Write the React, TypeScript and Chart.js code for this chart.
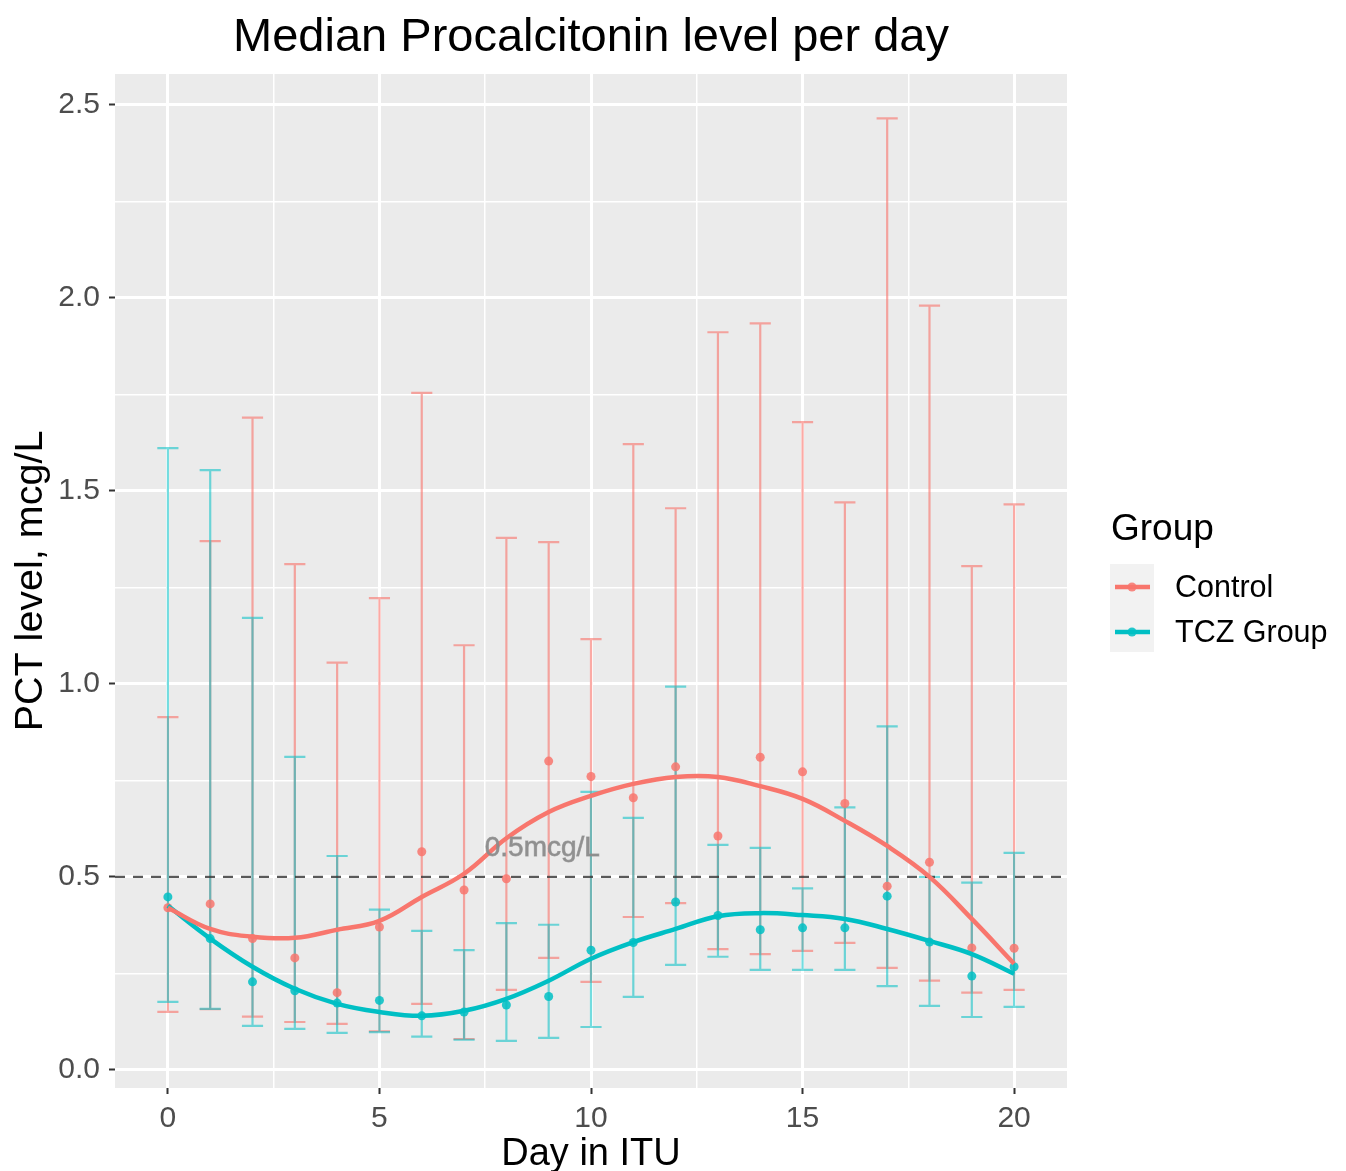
import React, { useEffect, useRef } from 'react';
import { Chart, registerables } from 'chart.js';

Chart.register(...registerables);

// ---------- data ----------
const DAYS = [0, 1, 2, 3, 4, 5, 6, 7, 8, 9, 10, 11, 12, 13, 14, 15, 16, 17, 18, 19, 20];

const CONTROL_MEDIAN = [0.42, 0.43, 0.34, 0.29, 0.2, 0.37, 0.565, 0.466, 0.495, 0.8, 0.76, 0.705, 0.785, 0.606, 0.81, 0.772, 0.69, 0.476, 0.538, 0.316, 0.315];
const CONTROL_UPPER = [0.914, 1.37, 1.69, 1.31, 1.055, 1.222, 1.754, 1.1, 1.378, 1.367, 1.116, 1.621, 1.455, 1.911, 1.934, 1.678, 1.47, 2.465, 1.98, 1.305, 1.465];
const CONTROL_LOWER = [0.15, 0.157, 0.138, 0.124, 0.119, 0.1, 0.171, 0.08, 0.207, 0.29, 0.228, 0.396, 0.432, 0.313, 0.3, 0.308, 0.329, 0.264, 0.231, 0.2, 0.207];

const TCZ_MEDIAN = [0.448, 0.34, 0.228, 0.205, 0.173, 0.18, 0.14, 0.15, 0.168, 0.19, 0.31, 0.33, 0.435, 0.4, 0.363, 0.368, 0.368, 0.45, 0.331, 0.243, 0.267];
const TCZ_UPPER = [1.611, 1.554, 1.171, 0.811, 0.554, 0.415, 0.36, 0.31, 0.38, 0.376, 0.72, 0.653, 0.993, 0.583, 0.575, 0.47, 0.68, 0.89, 0.5, 0.485, 0.562];
const TCZ_LOWER = [0.176, 0.158, 0.114, 0.106, 0.096, 0.098, 0.086, 0.078, 0.075, 0.083, 0.111, 0.189, 0.272, 0.293, 0.259, 0.259, 0.259, 0.217, 0.166, 0.137, 0.163];

// smoothed (loess) trend, read at each day
const CONTROL_SMOOTH = [0.42, 0.365, 0.345, 0.342, 0.363, 0.386, 0.448, 0.508, 0.6, 0.668, 0.71, 0.741, 0.759, 0.759, 0.735, 0.702, 0.645, 0.58, 0.5, 0.391, 0.275];
const TCZ_SMOOTH = [0.425, 0.34, 0.267, 0.21, 0.171, 0.15, 0.14, 0.153, 0.184, 0.231, 0.288, 0.331, 0.365, 0.398, 0.406, 0.401, 0.391, 0.365, 0.334, 0.3, 0.249];

const THRESHOLD = 0.5;
const THRESHOLD_LABEL = '0.5mcg/L';
const THRESHOLD_LABEL_POS = { x: 8.85, y: 0.573 };

const X_TICKS = [0, 2.5, 5, 7.5, 10, 12.5, 15, 17.5, 20];
const X_MAJOR = [0, 5, 10, 15, 20];
const X_TICK_LABELS = ['0', '5', '10', '15', '20'];
const Y_TICKS = [0, 0.25, 0.5, 0.75, 1, 1.25, 1.5, 1.75, 2, 2.25, 2.5];
const Y_MAJOR = [0, 0.5, 1, 1.5, 2, 2.5];
const Y_TICK_LABELS = ['0.0', '0.5', '1.0', '1.5', '2.0', '2.5'];

const SERIES_NAMES = ['Control', 'TCZ Group'];
const TITLE = 'Median Procalcitonin level per day';
const X_TITLE = 'Day in ITU';
const Y_TITLE = 'PCT level, mcg/L';
const LEGEND_TITLE = 'Group';

// ---------- style ----------
const X_MIN = -1.25;
const X_MAX = 21.25;
const Y_MIN = -0.047;
const Y_MAX = 2.58;
const CAP_HALF = 0.25;
const RED = '248,118,109';
const TEAL = '0,191,196';
const FONT = '"Liberation Sans", Arial, sans-serif';
const W = 1346;
const H = 1171;

const majorIdx = (arr: number[], v: number) => arr.findIndex((m) => Math.abs(m - v) < 1e-9);

const pts = (ys: number[]) => DAYS.map((d, i) => ({ x: d, y: ys[i] }));

const bgPlugin = {
  id: 'panelBg',
  beforeDraw(chart: any) {
    const { ctx, chartArea: a } = chart;
    ctx.save();
    ctx.fillStyle = '#EBEBEB';
    ctx.fillRect(a.left, a.top, a.right - a.left, a.bottom - a.top);
    ctx.restore();
  },
};

const errorBarPlugin = {
  id: 'errorBars',
  beforeDatasetsDraw(chart: any) {
    const { ctx } = chart;
    const xs = chart.scales.x;
    const ys = chart.scales.y;
    const draw = (lower: number[], upper: number[], color: string) => {
      ctx.save();
      ctx.strokeStyle = color;
      ctx.lineWidth = 2.2;
      DAYS.forEach((d, i) => {
        const px = xs.getPixelForValue(d);
        const hw = xs.getPixelForValue(d + CAP_HALF) - px;
        const pl = ys.getPixelForValue(lower[i]);
        const pu = ys.getPixelForValue(upper[i]);
        ctx.beginPath();
        ctx.moveTo(px, pl);
        ctx.lineTo(px, pu);
        ctx.moveTo(px - hw, pl);
        ctx.lineTo(px + hw, pl);
        ctx.moveTo(px - hw, pu);
        ctx.lineTo(px + hw, pu);
        ctx.stroke();
      });
      ctx.restore();
    };
    draw(CONTROL_LOWER, CONTROL_UPPER, `rgba(${RED},0.62)`);
    draw(TCZ_LOWER, TCZ_UPPER, `rgba(${TEAL},0.55)`);
  },
};

const textPlugin = {
  id: 'extraText',
  afterDatasetsDraw(chart: any) {
    const { ctx } = chart;
    const xs = chart.scales.x;
    const ys = chart.scales.y;
    ctx.save();
    ctx.font = `28px ${FONT}`;
    ctx.fillStyle = 'rgba(140,140,140,0.95)';
    ctx.strokeStyle = 'rgba(140,140,140,0.7)';
    ctx.lineWidth = 0.8;
    ctx.textAlign = 'center';
    ctx.textBaseline = 'middle';
    const tx = xs.getPixelForValue(THRESHOLD_LABEL_POS.x);
    const ty = ys.getPixelForValue(THRESHOLD_LABEL_POS.y);
    ctx.fillText(THRESHOLD_LABEL, tx, ty);
    ctx.strokeText(THRESHOLD_LABEL, tx, ty);
    ctx.restore();
  },
  afterDraw(chart: any) {
    const { ctx } = chart;
    ctx.save();
    // legend
    ctx.fillStyle = '#000';
    ctx.font = `37px ${FONT}`;
    ctx.textAlign = 'left';
    ctx.textBaseline = 'middle';
    ctx.fillText(LEGEND_TITLE, 1111, 530);
    ctx.fillStyle = '#F2F2F2';
    ctx.fillRect(1110, 564, 44, 88);
    const colors = [RED, TEAL];
    SERIES_NAMES.forEach((name, i) => {
      const cy = 587 + i * 45;
      ctx.strokeStyle = `rgb(${colors[i]})`;
      ctx.lineWidth = 4.5;
      ctx.beginPath();
      ctx.moveTo(1115, cy);
      ctx.lineTo(1150, cy);
      ctx.stroke();
      ctx.fillStyle = `rgba(${colors[i]},0.85)`;
      ctx.beginPath();
      ctx.arc(1132, cy, 4.5, 0, Math.PI * 2);
      ctx.fill();
      ctx.fillStyle = '#000';
      ctx.font = `30.5px ${FONT}`;
      ctx.fillText(name, 1175, cy + 2);
    });
    ctx.restore();
  },
};

export default function App() {
  const ref = useRef<HTMLCanvasElement | null>(null);

  useEffect(() => {
    document.body.style.margin = '0';
    const canvas = ref.current;
    if (!canvas) return;
    const chart = new Chart(canvas, {
      type: 'line',
      data: {
        datasets: [
          {
            label: SERIES_NAMES[0] + ' smooth',
            data: pts(CONTROL_SMOOTH),
            borderColor: `rgb(${RED})`,
            borderWidth: 4.5,
            pointRadius: 0,
            tension: 0.4,
            fill: false,
            order: 0,
          },
          {
            label: SERIES_NAMES[1] + ' smooth',
            data: pts(TCZ_SMOOTH),
            borderColor: `rgb(${TEAL})`,
            borderWidth: 4.5,
            pointRadius: 0,
            tension: 0.4,
            fill: false,
            order: 0,
          },
          {
            label: SERIES_NAMES[1],
            data: pts(TCZ_MEDIAN),
            showLine: false,
            pointRadius: 4.5,
            pointBorderWidth: 0,
            pointBackgroundColor: `rgba(${TEAL},0.85)`,
            order: 1,
          },
          {
            label: SERIES_NAMES[0],
            data: pts(CONTROL_MEDIAN),
            showLine: false,
            pointRadius: 4.5,
            pointBorderWidth: 0,
            pointBackgroundColor: `rgba(${RED},0.85)`,
            order: 2,
          },
          {
            label: 'threshold',
            data: [
              { x: X_MIN, y: THRESHOLD },
              { x: X_MAX, y: THRESHOLD },
            ],
            borderColor: 'rgba(60,60,60,0.85)',
            borderWidth: 2.2,
            borderDash: [10, 8],
            pointRadius: 0,
            order: 3,
          },
        ],
      },
      options: {
        animation: false,
        responsive: false,
        events: [],
        layout: { padding: { left: 0, right: W - 1067, top: 0, bottom: 0 } },
        plugins: {
          legend: { display: false },
          tooltip: { enabled: false },
          title: {
            display: true,
            text: TITLE,
            fullSize: false,
            color: '#000',
            font: { family: FONT, size: 47, weight: 'normal', lineHeight: 1.2 },
            padding: { top: 10, bottom: 7.6 },
          },
        },
        scales: {
          x: {
            type: 'linear',
            min: X_MIN,
            max: X_MAX,
            afterBuildTicks: (s: any) => {
              s.ticks = X_TICKS.map((v) => ({ value: v }));
            },
            afterFit: (s: any) => {
              s.height = H - 1088;
            },
            ticks: {
              autoSkip: false,
              maxRotation: 0,
              padding: 7,
              color: '#4D4D4D',
              font: { family: FONT, size: 30 },
              callback: (v: any) => {
                const i = majorIdx(X_MAJOR, Number(v));
                return i >= 0 ? X_TICK_LABELS[i] : '';
              },
            },
            grid: {
              color: '#FFFFFF',
              lineWidth: (c: any) => (majorIdx(X_MAJOR, c.tick.value) >= 0 ? 3 : 1.5),
              tickLength: 6,
              tickWidth: 2,
              tickColor: (c: any) => (majorIdx(X_MAJOR, c.tick.value) >= 0 ? '#333333' : 'rgba(0,0,0,0)'),
            },
            border: { display: false },
            title: {
              display: true,
              text: X_TITLE,
              color: '#000',
              font: { family: FONT, size: 38, lineHeight: 0.88 },
              padding: { top: 0, bottom: 0 },
            },
          },
          y: {
            type: 'linear',
            min: Y_MIN,
            max: Y_MAX,
            afterBuildTicks: (s: any) => {
              s.ticks = Y_TICKS.map((v) => ({ value: v }));
            },
            afterFit: (s: any) => {
              s.width = 115;
            },
            ticks: {
              autoSkip: false,
              padding: 9,
              color: '#4D4D4D',
              font: { family: FONT, size: 30 },
              callback: (v: any) => {
                const i = majorIdx(Y_MAJOR, Number(v));
                return i >= 0 ? Y_TICK_LABELS[i] : '';
              },
            },
            grid: {
              color: '#FFFFFF',
              lineWidth: (c: any) => (majorIdx(Y_MAJOR, c.tick.value) >= 0 ? 3 : 1.5),
              tickLength: 6,
              tickWidth: 2,
              tickColor: (c: any) => (majorIdx(Y_MAJOR, c.tick.value) >= 0 ? '#333333' : 'rgba(0,0,0,0)'),
            },
            border: { display: false },
            title: {
              display: true,
              text: Y_TITLE,
              color: '#000',
              font: { family: FONT, size: 39.5, lineHeight: 1.2 },
              padding: { top: 7, bottom: 0 },
            },
          },
        },
      },
      plugins: [bgPlugin, errorBarPlugin, textPlugin],
    } as any);
    return () => chart.destroy();
  }, []);

  return (
    <div style={{ width: W, height: H, position: 'relative' }}>
      <canvas ref={ref} width={W} height={H} style={{ display: 'block', width: W, height: H }} />
    </div>
  );
}
